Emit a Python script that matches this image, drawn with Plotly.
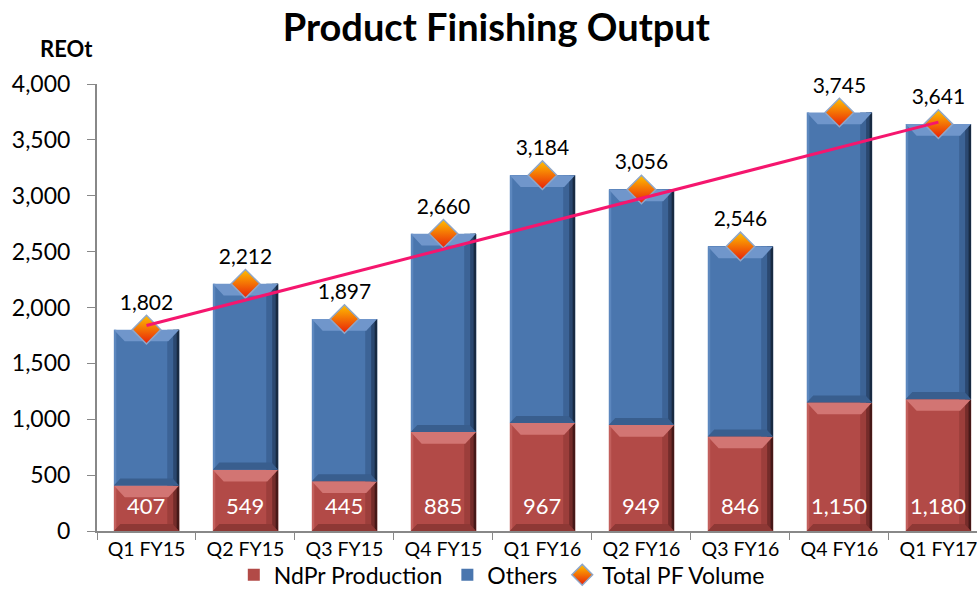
import numpy as np
import plotly.graph_objects as go

quarters = ["Q1 FY15", "Q2 FY15", "Q3 FY15", "Q4 FY15", "Q1 FY16",
            "Q2 FY16", "Q3 FY16", "Q4 FY16", "Q1 FY17"]
ndpr = [407, 549, 445, 885, 967, 949, 846, 1150, 1180]
total = [1802, 2212, 1897, 2660, 3184, 3056, 2546, 3745, 3641]
others = [t - n for t, n in zip(total, ndpr)]

FONT = "Lato"
W = 0.66          # bar width (category units)
BEV_X = 0.11      # bevel inset (category units)
BEV_Y = 105       # bevel height (value units)

xi = np.arange(len(quarters))
slope, intercept = np.polyfit(xi, total, 1)
trend = slope * xi + intercept


def polys(bases, tops, kind):
    xs, ys = [], []
    h = W / 2
    for i, (b, t) in enumerate(zip(bases, tops)):
        xl, xr = i - h, i + h
        if kind == "top":
            px = [xl, xr, xr - BEV_X, xl + BEV_X, xl]
            py = [t, t, t - BEV_Y, t - BEV_Y, t]
        elif kind == "bottom":
            px = [xl, xr, xr - BEV_X * 0.6, xl + BEV_X * 0.6, xl]
            py = [b, b, b + BEV_Y * 0.6, b + BEV_Y * 0.6, b]
        elif kind.startswith("right"):
            s = {"right1": 0.12, "right2": 0.06, "right3": 0.025}[kind]
            px = [xr - s, xr, xr, xr - s, xr - s]
            py = [b, b, t, t, b]
        else:  # left highlight
            s = 0.025
            px = [xl, xl + s, xl + s, xl, xl]
            py = [b, b, t, t, b]
        xs += px + [None]
        ys += py + [None]
    return xs, ys


def bevel(bases, tops, kind, color):
    x, y = polys(bases, tops, kind)
    return go.Scatter(x=x, y=y, mode="lines", fill="toself", fillcolor=color,
                      line=dict(width=0), showlegend=False, hoverinfo="skip")


fig = go.Figure()
fig.add_trace(go.Bar(
    x=xi, y=ndpr, name="NdPr Production",
    marker=dict(color="#B24A47", line=dict(width=0)), width=W,
))
fig.add_trace(go.Bar(
    x=xi, y=others, name="Others",
    marker=dict(color="#4A76AE", line=dict(width=0)), width=W, hoverinfo="y",
))

red_b, red_t = [0] * len(ndpr), ndpr
blue_b, blue_t = ndpr, total
for bases, tops, cols in [
    (red_b, red_t, dict(left="#C25F5C", right1="#9C3E3B", right2="#742C2A",
                        right3="#461817", top="#D27573", bottom="#8E3835")),
    (blue_b, blue_t, dict(left="#5C87BE", right1="#3C6396", right2="#2B4870",
                          right3="#182A42", top="#7096CB", bottom="#395E8E")),
]:
    for kind in ["left", "right1", "right2", "right3", "bottom", "top"]:
        fig.add_trace(bevel(bases, tops, kind, cols[kind]))

fig.add_trace(go.Scatter(
    x=xi, y=total, name="Total PF Volume", mode="markers+text",
    marker=dict(symbol="diamond", size=22, color="#FFC000",
                gradient=dict(type="vertical", color="#E8200A"),
                line=dict(color="#8EA6C8", width=1.5)),
    text=[f"{v:,}" for v in total], textposition="top center",
    textfont=dict(color="black", size=21, family=FONT),
    cliponaxis=False,
))
fig.add_trace(go.Scatter(
    x=xi, y=trend, mode="lines", showlegend=False,
    line=dict(color="#F5166E", width=3), hoverinfo="skip",
))

annotations = [dict(text="<b>REOt</b>", xref="paper", yref="paper",
                    x=-0.035, y=1.045, xanchor="center", yanchor="bottom",
                    showarrow=False, font=dict(size=22, family=FONT))]
for i, v in enumerate(ndpr):
    annotations.append(dict(x=i, y=0, xref="x", yref="y", text=f"{v:,}",
                            showarrow=False, yanchor="middle", yshift=26,
                            font=dict(color="white", size=22, family=FONT)))

fig.update_layout(
    width=977, height=607,
    barmode="stack",
    paper_bgcolor="white", plot_bgcolor="white",
    margin=dict(l=97, r=0, t=84, b=76),
    font=dict(family=FONT, size=21, color="black"),
    title=dict(text="<b>Product Finishing Output</b>", x=0.508, xanchor="center",
               y=0.955, yanchor="middle", font=dict(size=38, family=FONT)),
    legend=dict(orientation="h", x=0.46, xanchor="center", y=-0.05, yanchor="top",
                font=dict(size=23), traceorder="normal",
                bgcolor="rgba(0,0,0,0)"),
    annotations=annotations,
)
fig.update_xaxes(
    range=[-0.5, 8.39], tickmode="array", tickvals=xi, ticktext=quarters,
    ticks="", showline=True, linecolor="#888888", linewidth=2,
    tickfont=dict(size=19.5), showgrid=False, zeroline=False,
    ticklabeloverflow="allow",
    minor=dict(tickmode="linear", tick0=-0.5, dtick=1, ticks="outside",
               ticklen=7, tickcolor="#888888", showgrid=False),
)
fig.update_yaxes(
    range=[0, 4000], dtick=500, tickformat=",",
    ticks="outside", ticklen=8, tickcolor="#888888",
    showline=True, linecolor="#888888", linewidth=2,
    showgrid=False, zeroline=False, tickfont=dict(size=23),
    ticklabelstandoff=12,
)

fig.write_html("out.html", config={"displayModeBar": False},
               post_script="document.body.style.margin='0';")
